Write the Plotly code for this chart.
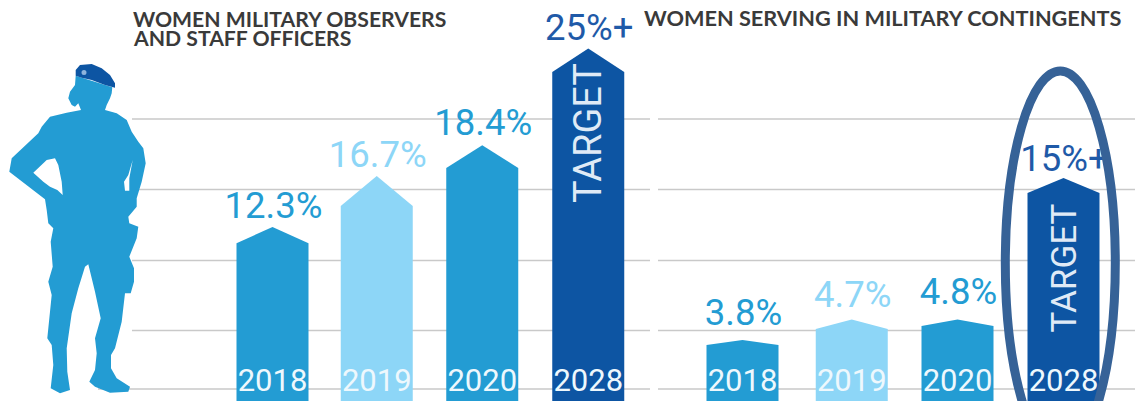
import plotly.graph_objects as go

# ---- data ----
years = ["2018", "2019", "2020", "2028"]
observer_values = [12.3, 16.7, 18.4, 25]
contingent_values = [3.8, 4.7, 4.8, 15]
observer_labels = ["12.3%", "16.7%", "18.4%", "25%+"]
contingent_labels = ["3.8%", "4.7%", "4.8%", "15%+"]
# drawn heights of the arrow bars, as they appear in the picture
observer_tips = [12.36, 16.0, 18.2, 25.1]
observer_shoulders = [11.2, 13.86, 16.57, 23.43]
contingent_tips = [4.29, 5.75, 5.75, 15.86]
contingent_shoulders = [3.93, 5.07, 5.29, 14.79]
grid_levels = [0.79, 4.96, 9.96, 15.04, 20.07]

# ---- layout ----
W, H = 1135, 401
UNIT = 14.0
BASE_PX = 400.0
def Y(px):
    return (BASE_PX - px) / UNIT

observer_x = [272.5, 376.75, 482.25, 588.25]
contingent_x = [742.5, 851.75, 957.5, 1063.5]
BAR_W = 72
BLUE, LIGHT, DARK = "#239cd3", "#8dd6f7", "#0d55a3"
bar_colors = [BLUE, LIGHT, BLUE, DARK]
label_colors = [BLUE, LIGHT, BLUE, "#1f5aa8"]
observer_gap = [1.3, 1.3, 1.4, 1.3]
contingent_gap = [1.7, 1.55, 1.75, 1.15]
GRID = "#c9c9c9"
NUM_FONT = "Roboto"

fig = go.Figure()

# gridlines
for i, lv in enumerate(grid_levels):
    start = 98 if i == 0 else 132
    for a, b in ((start, 650), (658, W)):
        fig.add_trace(go.Scatter(x=[a, b], y=[lv, lv], mode="lines",
                                 line=dict(color=GRID, width=1.5),
                                 hoverinfo="skip", showlegend=False))

base = Y(401)
for xs, tips, shoulders in ((observer_x, observer_tips, observer_shoulders),
                            (contingent_x, contingent_tips, contingent_shoulders)):
    for cx, t, s, c in zip(xs, tips, shoulders, bar_colors):
        h = BAR_W / 2
        fig.add_trace(go.Scatter(
            x=[cx - h, cx - h, cx, cx + h, cx + h, cx - h],
            y=[base, s, t, s, base, base],
            mode="lines", fill="toself", fillcolor=c,
            line=dict(color=c, width=0),
            hoverinfo="skip", showlegend=False))

# value and year labels (traces, so the ring is drawn above them)
for xs, tips, gaps, labels in ((observer_x, observer_tips, observer_gap, observer_labels),
                               (contingent_x, contingent_tips, contingent_gap, contingent_labels)):
    for cx, t, g, lab, c in zip(xs, tips, gaps, labels, label_colors):
        fig.add_trace(go.Scatter(
            x=[cx + 1], y=[t + g], mode="text", text=[lab], textposition="middle center",
            textfont=dict(family=NUM_FONT, size=36.5, color=c, weight=400),
            hoverinfo="skip", showlegend=False))
    fig.add_trace(go.Scatter(
        x=xs, y=[Y(383)] * 4, mode="text", text=years, textposition="middle center",
        textfont=dict(family=NUM_FONT, size=31, color="#eef8fd", weight=400),
        hoverinfo="skip", showlegend=False))

def path(points):
    return "M" + " L".join(f"{x:.1f},{Y(y):.3f}" for x, y in points) + " Z"

# decorative silhouette, traced in picture pixels
body = [(112.3,87.3),(111.7,93.3),(110,98.3),(106.7,105),(105,110),(116.7,113.3),(126.7,120),(131.7,131.7),
        (138.3,141.7),(143.3,148.3),(145.7,163.3),(141.7,181.7),(136.7,198.3),(136.7,206.7),(128.3,216.7),
        (129.3,223.3),(138.3,226.7),(136.7,238.3),(129.3,256.7),(134,268.3),(134,281.7),(130.7,293.3),
        (125,293.3),(121.7,321.7),(115,348.3),(111,355),(111,368.3),(116.7,378.3),(130,386.7),(128.3,391.7),
        (110,392.7),(95,386.7),(89.3,381.7),(95,370),(96.7,353.3),(95,338.3),(100.7,318.3),(95,291.7),
        (88.3,264.3),(85,266.7),(78.3,288.3),(71.7,313.3),(66.7,348.3),(67.3,371.7),(70,390),(60,393.3),
        (50.7,388.3),(53.3,365),(51.7,345),(47.3,338.3),(51.7,295),(48.3,281.7),(52.7,266.7),(50.7,241.7),
        (53.3,228.3),(48.3,223.3),(46.7,210),(45,199.3),(20,180),(9.3,171.7),(11.7,158.3),(38.3,133.3),
        (41.7,126.7),(50,116.7),(66.7,112.7),(81,110),(78.3,103.3),(75,106.7),(71.7,105),(68.3,98.3),
        (70,91.7),(75,85),(75.7,75.7)]
arm_hole = [(33.3,172.7),(46.7,160),(55,158.3),(58.3,165),(61.7,181.7),(62.7,195),(57.3,190),(50,186.7),(43.3,181.7)]
slit = [(132.7,160),(129.3,178.3),(129.3,190.7),(125,190.7),(124,181.7),(128.3,175)]
beret = [(75.7,70),(80,65),(91.7,64),(101.7,68.3),(110,75),(115,83.3),(115,87.7),(105,85),(91.7,80),(81.7,77.7),(75.7,75.7)]

shapes = [
    dict(type="path", path=path(body) + " " + path(arm_hole) + " " + path(slit),
         fillcolor=BLUE, line=dict(width=0), layer="above"),
    dict(type="path", path=path(beret), fillcolor=DARK, line=dict(width=0), layer="above"),
    dict(type="circle", x0=81.5, x1=86.5, y0=Y(75), y1=Y(70), fillcolor="#8fb4dc",
         line=dict(width=0), layer="above"),
    dict(type="circle", x0=1060.3 - 55, x1=1060.3 + 55, y0=Y(71), y1=Y(455),
         line=dict(color="#366297", width=9), layer="above"),
]

TITLE_L = dict(family="Lato", size=21.2, color="#3a3a3a", weight=700)
TITLE_R = dict(family="Lato", size=21.7, color="#3a3a3a", weight=700)
def note(text, x, py, font, **kw):
    return dict(text=text, x=x, y=Y(py), xref="x", yref="y", showarrow=False, font=font, **kw)

annotations = [
    note("WOMEN MILITARY OBSERVERS", 131, 18.5, TITLE_L, xanchor="left"),
    note("AND STAFF OFFICERS", 131, 38, TITLE_L, xanchor="left"),
    note("WOMEN SERVING IN MILITARY CONTINGENTS", 642, 18, TITLE_R, xanchor="left"),
    note("TARGET", 588, 133, dict(family=NUM_FONT, size=38, color="#dfeaf6", weight=400), textangle=-90),
    note("TARGET", 1064, 268.5, dict(family=NUM_FONT, size=35, color="#dfeaf6", weight=400), textangle=-90),
]

fig.update_layout(
    width=W, height=H, margin=dict(l=0, r=0, t=0, b=0),
    paper_bgcolor="white", plot_bgcolor="white", showlegend=False,
    xaxis=dict(range=[0, W], visible=False, fixedrange=True),
    yaxis=dict(range=[Y(H), Y(0)], visible=False, fixedrange=True),
    shapes=shapes, annotations=annotations,
)
fig.write_html("out.html", post_script="document.body.style.margin='0';", config=dict(displayModeBar=False))
